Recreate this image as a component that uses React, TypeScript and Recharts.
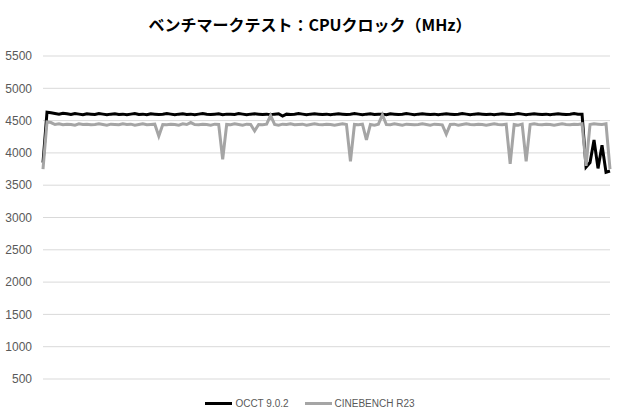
import { LineChart, Line, XAxis, YAxis, CartesianGrid, Legend } from 'recharts';

// samples are one point per step along the run (index only)
const occt = [
  3850,
  4630, 4620, 4610, 4600, 4615, 4605, 4595, 4610, 4600, 4590,
  4605, 4600, 4595, 4610, 4600, 4590, 4600, 4605, 4595, 4600,
  4590, 4600, 4610, 4595, 4600, 4590, 4605, 4600, 4595, 4600,
  4610, 4600, 4590, 4600, 4605, 4595, 4600, 4590, 4600, 4610,
  4600, 4595, 4600, 4605, 4590, 4600, 4600, 4595, 4610, 4600,
  4590, 4600, 4605, 4600, 4595, 4600, 4590, 4600, 4605, 4570,
  4600, 4595, 4600, 4610, 4600, 4590, 4600, 4605, 4600, 4595,
  4600, 4590, 4600, 4605, 4600, 4595, 4600, 4610, 4600, 4590,
  4600, 4605, 4595, 4600, 4600, 4590, 4605, 4600, 4595, 4600,
  4610, 4600, 4590, 4600, 4605, 4600, 4595, 4600, 4590, 4600,
  4605, 4600, 4595, 4600, 4610, 4600, 4590, 4600, 4605, 4600,
  4595, 4600, 4590, 4600, 4605, 4600, 4595, 4600, 4610, 4600,
  4590, 4600, 4605, 4600, 4595, 4600, 4590, 4600, 4605, 4600,
  4595, 4600, 4610, 4600, 4600,
  3780, 3850, 4200, 3760, 4120, 3700, 3720,
];

const cinebench = [
  3750,
  4480, 4470, 4440, 4450, 4435, 4445, 4440, 4430, 4450, 4440,
  4445, 4435, 4440, 4450, 4440, 4430, 4445, 4440, 4435, 4450,
  4440, 4445, 4430, 4440, 4450, 4435, 4440, 4445, 4260, 4440,
  4435, 4445, 4440, 4430, 4450, 4440, 4470, 4440, 4435, 4445,
  4440, 4430, 4445, 4440, 3900, 4440, 4435, 4450, 4440, 4430,
  4445, 4440, 4340, 4440, 4435, 4445, 4580, 4440, 4430, 4445,
  4440, 4450, 4435, 4440, 4445, 4430, 4440, 4450, 4440, 4435,
  4445, 4440, 4430, 4440, 4450, 4440, 3870, 4440, 4435, 4445,
  4200, 4440, 4430, 4445, 4590, 4440, 4435, 4450, 4440, 4430,
  4445, 4440, 4435, 4440, 4450, 4440, 4430, 4445, 4440, 4435,
  4290, 4440, 4445, 4430, 4440, 4450, 4440, 4435, 4445, 4440,
  4430, 4440, 4450, 4440, 4435, 4445, 3830, 4440, 4430, 4445,
  3870, 4440, 4450, 4440, 4435, 4445, 4440, 4430, 4440, 4450,
  4440, 4435, 4445, 4440, 4450, 3800, 4440, 4450, 4445, 4440,
  4450, 3750,
];

const yTicks = [500, 1000, 1500, 2000, 2500, 3000, 3500, 4000, 4500, 5000, 5500];

const seriesNames = ['OCCT 9.0.2', 'CINEBENCH R23'];
const seriesColors = ['#000000', '#a5a5a5'];

const data = occt.map((v, i) => ({ t: i, occt: v, cinebench: cinebench[i] }));

const renderLegend = () => (
  <div style={{ display: 'flex', justifyContent: 'center', gap: 16, fontFamily: '"Liberation Sans", Arial, sans-serif', fontSize: 10, color: '#595959' }}>
    {seriesNames.map((name, i) => (
      <div key={name} style={{ display: 'flex', alignItems: 'center' }}>
        <span style={{ display: 'inline-block', width: 27, height: 3, background: seriesColors[i], marginRight: 3 }} />
        <span>{name}</span>
      </div>
    ))}
  </div>
);

export default function App() {
  return (
    <div style={{ width: 620, height: 420, background: '#fff', position: 'relative' }}>
      <style>{'body{margin:0}'}</style>
      <div
        style={{
          position: 'absolute',
          top: 12,
          left: 0,
          width: 620,
          textAlign: 'center',
          fontFamily: '"Noto Sans CJK JP", sans-serif',
          fontWeight: 700,
          fontSize: 16,
          color: '#000',
        }}
      >
        ベンチマークテスト：CPUクロック（MHz）
      </div>
      <LineChart width={620} height={420} data={data} margin={{ top: 56, right: 10, left: 0, bottom: 30 }}>
        <CartesianGrid horizontal vertical={false} stroke="#d9d9d9" />
        <XAxis dataKey="t" hide />
        <YAxis
          width={43}
          domain={[500, 5500]}
          ticks={yTicks}
          axisLine={false}
          tickLine={false}
          tickSize={0}
          tickMargin={11}
          tick={{ fill: '#595959', fontSize: 12, fontFamily: '"Liberation Sans", Arial, sans-serif' }}
        />
        <Legend content={renderLegend} wrapperStyle={{ top: 398, left: 0, width: 620 }} />
        <Line dataKey="occt" name={seriesNames[0]} stroke={seriesColors[0]} strokeWidth={3} dot={false} isAnimationActive={false} />
        <Line dataKey="cinebench" name={seriesNames[1]} stroke={seriesColors[1]} strokeWidth={3} dot={false} isAnimationActive={false} />
      </LineChart>
    </div>
  );
}
